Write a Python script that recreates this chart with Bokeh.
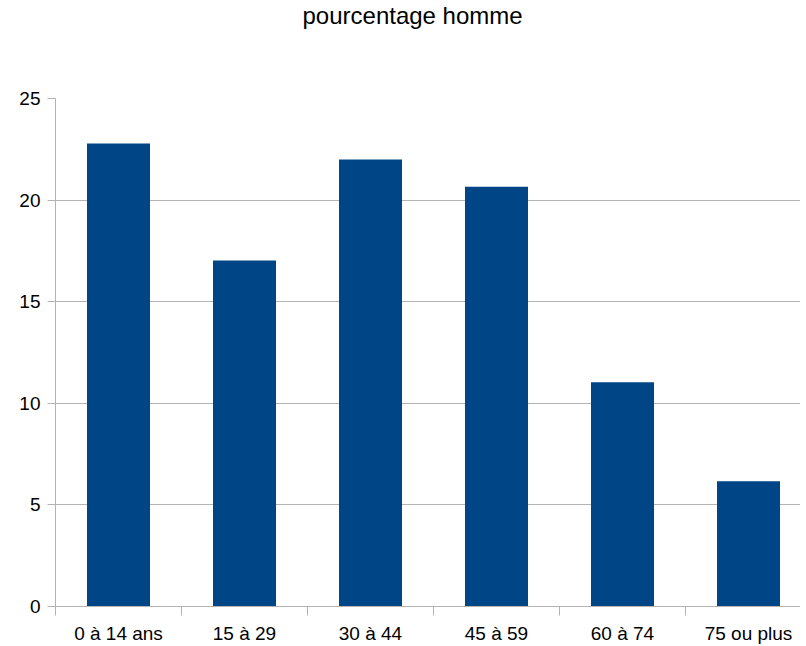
from bokeh.plotting import figure
from bokeh.models import Range1d, FixedTicker, ColumnDataSource
from bokeh.embed import file_html
from bokeh.resources import INLINE

categories = ["0 à 14 ans", "15 à 29", "30 à 44", "45 à 59", "60 à 74", "75 ou plus"]
values = [22.78, 17.03, 22.0, 20.66, 11.04, 6.17]
y_ticks = [0, 5, 10, 15, 20, 25]
title_text = "pourcentage homme"

FONT = "Liberation Sans"
GRID = "#b3b3b3"

n = len(categories)
centers = [i + 0.5 for i in range(n)]
src = ColumnDataSource(dict(x=centers, top=values, name=categories))

W, H = 800, 646
left, right, top, bottom = 55, 0, 97, 40
frame_w = W - left - right
px_per_cat = 126.0

p = figure(width=W, height=H, output_backend="svg", toolbar_location=None,
           x_range=Range1d(0, frame_w / px_per_cat), y_range=Range1d(0, 25),
           min_border_left=left, min_border_right=right,
           min_border_top=top, min_border_bottom=bottom,
           title=title_text + "\n\n")
p.outline_line_color = None
p.background_fill_color = "white"

p.title.text_font = FONT
p.title.text_font_size = "24px"
p.title.text_font_style = "normal"
p.title.text_color = "black"
p.title.text_line_height = 1.28
p.title.align = "left"
p.title.offset = 247
p.title.standoff = 0

p.vbar(x="x", top="top", width=0.5, bottom=0, source=src,
       fill_color="#004586", line_color=None)

p.xaxis.ticker = FixedTicker(ticks=centers, minor_ticks=list(range(n + 1)))
p.xaxis.major_label_overrides = {c: lab for c, lab in zip(centers, categories)}
p.xaxis.major_tick_out = 0
p.xaxis.major_tick_in = 0
p.xaxis.minor_tick_out = 9
p.xaxis.minor_tick_in = 0
p.xaxis.minor_tick_line_color = GRID
p.xaxis.axis_line_color = GRID
p.xaxis.major_label_standoff = 7
p.xaxis.major_label_text_font = FONT
p.xaxis.major_label_text_font_size = "19px"
p.xaxis.major_label_text_color = "black"

p.yaxis.ticker = FixedTicker(ticks=y_ticks)
p.yaxis.minor_tick_line_color = None
p.yaxis.major_tick_out = 8
p.yaxis.major_tick_in = 0
p.yaxis.major_tick_line_color = GRID
p.yaxis.axis_line_color = GRID
p.yaxis.major_label_standoff = 7
p.yaxis.major_label_text_font = FONT
p.yaxis.major_label_text_font_size = "19px"
p.yaxis.major_label_text_color = "black"

p.xgrid.grid_line_color = None
p.ygrid.grid_line_color = GRID

open("out.html", "w").write(file_html(p, INLINE))
